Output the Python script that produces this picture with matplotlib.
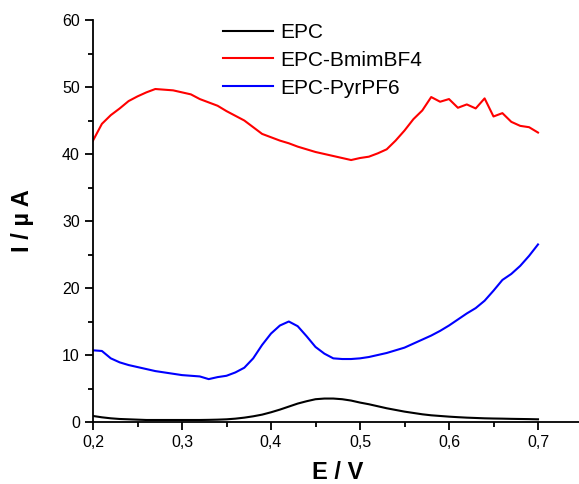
import matplotlib
matplotlib.use("Agg")
import matplotlib.pyplot as plt
from matplotlib.ticker import MultipleLocator, FuncFormatter

plt.rcParams["font.family"] = ["Liberation Sans", "DejaVu Sans"]

# potential grid, V
potential = [round(0.20 + 0.01 * i, 2) for i in range(51)]

# current, uA
epc = [0.9, 0.7, 0.55, 0.45, 0.4, 0.35, 0.3, 0.3, 0.3, 0.3,
       0.3, 0.3, 0.3, 0.32, 0.35, 0.4, 0.5, 0.65, 0.85, 1.1,
       1.45, 1.85, 2.3, 2.75, 3.1, 3.4, 3.5, 3.5, 3.4, 3.2,
       2.9, 2.65, 2.35, 2.05, 1.8, 1.55, 1.35, 1.15, 1.0, 0.9,
       0.8, 0.72, 0.65, 0.6, 0.55, 0.52, 0.5, 0.47, 0.45, 0.43,
       0.4]

epc_bmimbf4 = [42.0, 44.5, 45.8, 46.8, 47.9, 48.6, 49.2, 49.7, 49.6, 49.5,
               49.2, 48.9, 48.2, 47.7, 47.2, 46.4, 45.7, 45.0, 44.0, 43.0,
               42.5, 42.0, 41.6, 41.1, 40.7, 40.3, 40.0, 39.7, 39.4, 39.1,
               39.4, 39.6, 40.1, 40.7, 42.0, 43.5, 45.2, 46.5, 48.5, 47.8,
               48.2, 46.9, 47.4, 46.8, 48.3, 45.6, 46.1, 44.8, 44.2, 44.0,
               43.2]

epc_pyrpf6 = [10.7, 10.6, 9.5, 8.9, 8.5, 8.2, 7.9, 7.6, 7.4, 7.2,
              7.0, 6.9, 6.8, 6.4, 6.7, 6.9, 7.4, 8.1, 9.5, 11.5,
              13.2, 14.4, 15.0, 14.3, 12.8, 11.2, 10.2, 9.5, 9.4, 9.4,
              9.5, 9.7, 10.0, 10.3, 10.7, 11.1, 11.7, 12.3, 12.9, 13.6,
              14.4, 15.3, 16.2, 17.0, 18.1, 19.6, 21.2, 22.1, 23.3, 24.8,
              26.5]

fig = plt.figure(figsize=(5.79, 4.84), dpi=100)
ax = fig.add_axes([93 / 579, 62 / 484, 489.5 / 579, 402 / 484])

ax.plot(potential, epc, color="black", lw=1.5, label="EPC")
ax.plot(potential, epc_bmimbf4, color="#ff0000", lw=1.5, label="EPC-BmimBF4")
ax.plot(potential, epc_pyrpf6, color="#0000ff", lw=1.5, label="EPC-PyrPF6")

ax.set_xlim(0.2, 0.75)
ax.set_ylim(0, 60)
ax.spines["top"].set_visible(False)
ax.spines["right"].set_visible(False)
ax.spines["left"].set_linewidth(1.3)
ax.spines["bottom"].set_linewidth(1.3)

ax.xaxis.set_major_locator(MultipleLocator(0.1))
ax.xaxis.set_minor_locator(MultipleLocator(0.05))
ax.yaxis.set_major_locator(MultipleLocator(10))
ax.yaxis.set_minor_locator(MultipleLocator(5))
ax.xaxis.set_major_formatter(FuncFormatter(lambda v, p: f"{v:.1f}".replace(".", ",")))
ax.tick_params(which="major", direction="out", length=6, width=1.3, labelsize=11.5)
ax.tick_params(which="minor", direction="out", length=3.5, width=1.3)

ax.set_xlabel("E / V", fontsize=17, fontweight="bold", labelpad=8)
ax.set_ylabel("I / µ A", fontsize=17, fontweight="bold", labelpad=20)

ax.legend(loc="upper left", bbox_to_anchor=(223 / 579, 1 - 23 / 484),
          bbox_transform=fig.transFigure, frameon=False, fontsize=15,
          handlelength=2.4, handletextpad=0.35, labelspacing=0.42,
          borderpad=0, borderaxespad=0)

fig.savefig("out.png", dpi=100)
